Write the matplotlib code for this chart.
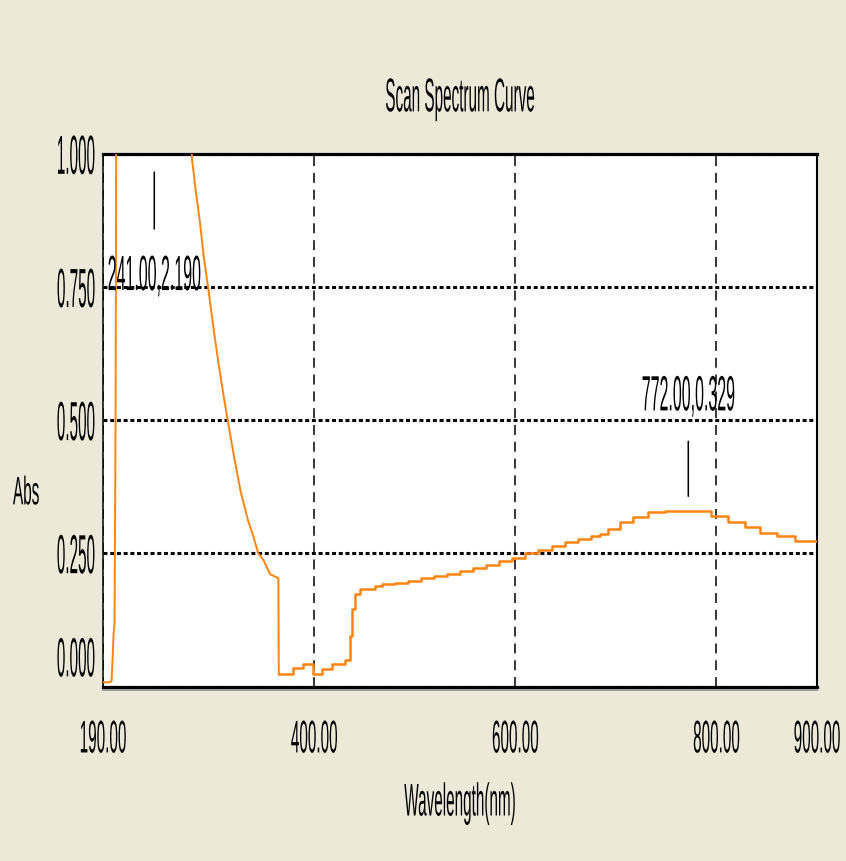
import matplotlib
matplotlib.use('Agg')
import matplotlib.pyplot as plt
from matplotlib import patheffects
from matplotlib.lines import Line2D
from matplotlib.transforms import Affine2D, ScaledTranslation
from matplotlib.textpath import TextToPath

# UV part of the scan (goes off scale between ~203 and ~279 nm)
uv_nm = [190, 197, 198.5, 199.5, 200.5, 201.5, 202.5, 203.5, 210, 225, 241, 255, 266, 274,
         278.5, 282, 286.5, 290, 294.5, 299.7, 305, 310, 314, 320, 327, 334.5, 339.5, 344.4,
         349.4, 356.1, 362.7, 364.4, 364.8]
uv_abs = [0.008, 0.008, 0.01, 0.05, 0.098, 0.12, 0.5, 1.3, 1.85, 2.12, 2.190, 2.05, 1.65, 1.25,
          0.99, 0.935, 0.87, 0.81, 0.75, 0.675, 0.605, 0.545, 0.5, 0.435, 0.365, 0.31, 0.282,
          0.25, 0.238, 0.211, 0.205, 0.203, 0.023]

# visible/NIR part, instrument reports it in steps
vis_nm = [364.8, 378.6, 389.2, 399.1, 407.5, 417.4, 430.7, 435.6, 437.3, 440.6, 445.6, 460.5,
          467.1, 480, 493, 506, 519, 532, 545, 558, 571, 584, 597, 610, 623, 636, 649, 662,
          675, 684, 692, 704, 717, 732, 749, 795, 811.5, 828.4, 843.3, 860.2, 878.2, 900]
vis_abs = [0.023, 0.034, 0.042, 0.023, 0.033, 0.042, 0.050, 0.095, 0.145, 0.173, 0.183, 0.189,
           0.192, 0.195, 0.199, 0.203, 0.208, 0.212, 0.217, 0.222, 0.228, 0.235, 0.242, 0.250,
           0.257, 0.264, 0.271, 0.277, 0.282, 0.286, 0.295, 0.308, 0.318, 0.327, 0.329, 0.320,
           0.308, 0.299, 0.289, 0.282, 0.274, 0.274]

peak_nm = [241.0, 772.0]
peak_abs = [2.190, 0.329]

x_ticks = [190, 400, 600, 800, 900]
x_labels = ['190.00', '400.00', '600.00', '800.00', '900.00']
y_ticks = [0.0, 0.25, 0.5, 0.75, 1.0]
y_labels = ['0.000', '0.250', '0.500', '0.750', '1.000']

BG = '#ece9d8'
ORANGE = '#ff8410'


class TallText(patheffects.AbstractPathEffect):
    """Stretch glyphs vertically around the middle of the cap height."""

    def __init__(self, sy):
        super().__init__()
        self.sy = sy

    def draw_path(self, renderer, gc, tpath, affine, rgbFace=None):
        m = affine.get_matrix()
        em = m[1, 1] * TextToPath.FONT_SCALE
        yc = m[1, 2] + 0.36 * em
        tall = affine + Affine2D().translate(0, -yc).scale(1, self.sy).translate(0, yc)
        renderer.draw_path(gc, tpath, tall, rgbFace)


plt.rcParams['font.family'] = ['Liberation Sans', 'DejaVu Sans']

W, H = 846, 862
fig = plt.figure(figsize=(W / 100, H / 100), dpi=100, facecolor=BG)
left, right, top, bottom = 103, 817, 155, 687.5
ax = fig.add_axes([left / W, 1 - bottom / H, (right - left) / W, (bottom - top) / H])
ax.set_facecolor('white')

ax.plot(uv_nm, uv_abs, color=ORANGE, lw=1.4, zorder=3)
ax.plot(vis_nm, vis_abs, color=ORANGE, lw=1.8, drawstyle='steps-post', zorder=3)

ax.set_xlim(190, 900)
ax.set_ylim(0, 1.0)

ax.grid(axis='y', color='black', lw=2.2, ls=(0, (1.3, 0.9)))
ax.grid(axis='x', color='black', lw=1.1, ls=(0, (6.5, 4.5)))

ax.tick_params(axis='both', length=0, labelsize=11)
ax.tick_params(axis='y', pad=5.8)
ax.tick_params(axis='x', pad=35.6)
ax.set_xticks(x_ticks, x_labels, va='center_baseline', path_effects=[TallText(3.0)])
ax.set_yticks(y_ticks, y_labels, va='center_baseline', path_effects=[TallText(3.6)])

# the 0.000 label sits a bit above the axis line
lab0 = ax.yaxis.get_major_ticks()[0].label1
lab0.set_transform(lab0.get_transform() + ScaledTranslation(0, 0.30, fig.dpi_scale_trans))

for side, lw in [('top', 2.3), ('bottom', 2.3), ('left', 1.1), ('right', 1.5)]:
    ax.spines[side].set_linewidth(lw)
    ax.spines[side].set_color('black')

# grey shadow under the frame
fig.add_artist(Line2D([left / W, right / W], [1 - (bottom + 3) / H] * 2,
                      color='#9a9a9a', lw=1.4))

ax.set_title('Scan Spectrum Curve', fontsize=11, va='center_baseline', pad=43,
             path_effects=[TallText(3.1)])
ax.set_xlabel('Wavelength(nm)', fontsize=11, va='center_baseline',
              path_effects=[TallText(3.0)])
ax.xaxis.set_label_coords(0.5, (bottom - 800) / (bottom - top))
ax.set_ylabel('Abs', fontsize=11, rotation=0, ha='center', va='center_baseline',
              path_effects=[TallText(2.6)])
ax.yaxis.set_label_coords((26 - left) / (right - left), (bottom - 491) / (bottom - top))

# peak markers; peaks above the scale are pinned under the top edge
ymax = ax.get_ylim()[1]
for nm, a in zip(peak_nm, peak_abs):
    if a > ymax:
        y, tick_from, shrink, text_off = ymax, -75, 13, -118
    else:
        y, tick_from, shrink, text_off = a, 70, 10.8, 119
    ax.annotate('', xy=(nm, y), xytext=(0, tick_from), textcoords='offset pixels',
                arrowprops=dict(arrowstyle='-', color='black', lw=1.1, shrinkA=0, shrinkB=shrink))
    ax.annotate(f'{nm:.2f},{a:.3f}', xy=(nm, y), xytext=(0, text_off),
                textcoords='offset pixels', ha='center', va='center_baseline', fontsize=11.5,
                path_effects=[TallText(3.1)], zorder=5)

fig.savefig('out.png', dpi=100, facecolor=BG)
